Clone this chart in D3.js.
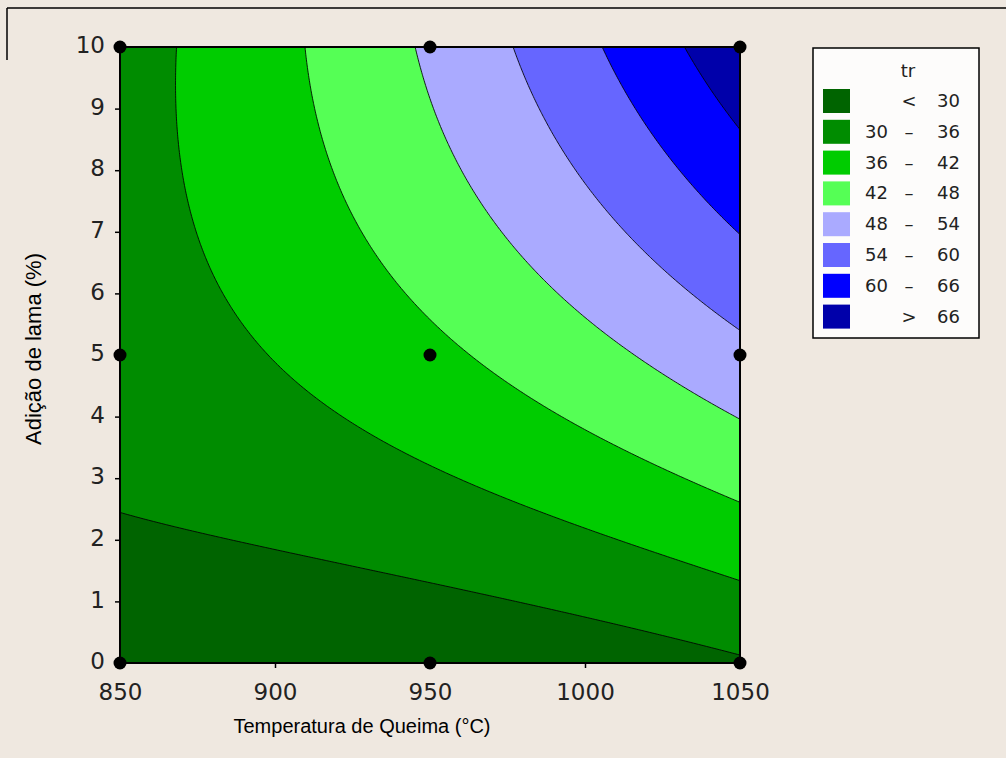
<!DOCTYPE html>
<html>
<head>
<meta charset="utf-8">
<script src="https://cdn.jsdelivr.net/npm/d3@7"></script>
<style>
  html, body { margin: 0; padding: 0; background: #efe8e0; }
  svg { display: block; }
</style>
</head>
<body>
<svg id="chart" width="1006" height="758"></svg>
<script>
// Fitted response surface for tr, in coded units
// x = (T - 950) / 100, y = (L - 5) / 5
const termPowX = [0, 1, 0, 2, 0, 1, 2, 2];
const termPowY = [0, 0, 1, 0, 2, 1, 1, 2];
const termCoef = [40.69, 9.91, 11.79, 1.78, -3.61, 8.39, 0.30, 1.05];

// Contour levels and legend
const levels = [30, 36, 42, 48, 54, 60, 66];
const bandColors = ["#006400", "#008c00", "#00cc00", "#55ff55", "#aaaaff", "#6666ff", "#0000ff", "#0000aa"];
const legendLow = ["", "30", "36", "42", "48", "54", "60", ""];
const legendMid = ["<", "\u2013", "\u2013", "\u2013", "\u2013", "\u2013", "\u2013", ">"];
const legendHigh = ["30", "36", "42", "48", "54", "60", "66", "66"];

// Design points of the experiment
const designT = [850, 850, 850, 950, 950, 950, 1050, 1050, 1050];
const designL = [0, 5, 10, 0, 5, 10, 0, 5, 10];

// Axis ticks
const xTicks = [850, 900, 950, 1000, 1050];
const yTicks = [0, 1, 2, 3, 4, 5, 6, 7, 8, 9, 10];

const svg = d3.select("#chart");
const plot = { left: 120, right: 740, top: 47, bottom: 663 };

const xScale = d3.scaleLinear().domain([850, 1050]).range([plot.left, plot.right]);
const yScale = d3.scaleLinear().domain([0, 10]).range([plot.bottom, plot.top]);

function response(T, L) {
  const x = (T - 950) / 100, y = (L - 5) / 5;
  let v = 0;
  for (let k = 0; k < termCoef.length; k++) {
    v += termCoef[k] * Math.pow(x, termPowX[k]) * Math.pow(y, termPowY[k]);
  }
  return v;
}

// Outer frame
svg.append("line").attr("x1", 7).attr("x2", 1006).attr("y1", 8).attr("y2", 8)
  .attr("stroke", "#000").attr("stroke-width", 1.5);
svg.append("line").attr("x1", 7).attr("x2", 7).attr("y1", 8).attr("y2", 60)
  .attr("stroke", "#000").attr("stroke-width", 1.5);

// Sample the surface on a fine grid
const nx = 241, ny = 241;
const dT = 200 / (nx - 1), dL = 10 / (ny - 1);
const values = new Float64Array(nx * ny);
for (let j = 0; j < ny; j++) {
  for (let i = 0; i < nx; i++) {
    values[j * nx + i] = response(850 + i * dT, 0 + j * dL);
  }
}

const contours = d3.contours().size([nx, ny]).thresholds(levels)(values);

const gridToPixel = d3.geoTransform({
  point: function (gx, gy) {
    this.stream.point(xScale(850 + (gx - 0.5) * dT), yScale((gy - 0.5) * dL));
  }
});
const path = d3.geoPath(gridToPixel);

svg.append("clipPath").attr("id", "plotClip")
  .append("rect")
  .attr("x", plot.left).attr("y", plot.top)
  .attr("width", plot.right - plot.left).attr("height", plot.bottom - plot.top);

const g = svg.append("g").attr("clip-path", "url(#plotClip)");

g.append("rect")
  .attr("x", plot.left).attr("y", plot.top)
  .attr("width", plot.right - plot.left).attr("height", plot.bottom - plot.top)
  .attr("fill", bandColors[0]);

g.selectAll("path.band")
  .data(contours)
  .join("path")
  .attr("class", "band")
  .attr("d", path)
  .attr("fill", (d, i) => bandColors[i + 1])
  .attr("stroke", "#000")
  .attr("stroke-width", 1)
  .attr("stroke-opacity", 0.85);

// Plot frame
svg.append("rect")
  .attr("x", plot.left).attr("y", plot.top)
  .attr("width", plot.right - plot.left).attr("height", plot.bottom - plot.top)
  .attr("fill", "none").attr("stroke", "#000").attr("stroke-width", 2);

// Axes
const tickFont = "'DejaVu Sans', Verdana, sans-serif";
const xAxis = svg.append("g")
  .attr("transform", `translate(0,${plot.bottom})`)
  .call(d3.axisBottom(xScale).tickValues(xTicks).tickFormat(d3.format("d")).tickSize(5).tickPadding(16));
const yAxis = svg.append("g")
  .attr("transform", `translate(${plot.left},0)`)
  .call(d3.axisLeft(yScale).tickValues(yTicks).tickFormat(d3.format("d")).tickSize(5).tickPadding(10));
[xAxis, yAxis].forEach(a => {
  a.select(".domain").remove();
  a.selectAll("line").attr("stroke", "#000").attr("stroke-width", 1.5);
  a.selectAll("text").attr("font-family", tickFont).attr("font-size", 23).attr("fill", "#222");
});
yAxis.selectAll("text").attr("dy", "0.25em");

// Axis titles
svg.append("text")
  .attr("x", 362).attr("y", 733)
  .attr("text-anchor", "middle")
  .attr("font-family", "'Liberation Sans', Arial, sans-serif")
  .attr("font-size", 20)
  .attr("fill", "#000")
  .text("Temperatura de Queima (°C)");
svg.append("text")
  .attr("transform", "translate(41,349) rotate(-90)")
  .attr("text-anchor", "middle")
  .attr("font-family", "'Liberation Sans', Arial, sans-serif")
  .attr("font-size", 22)
  .attr("fill", "#000")
  .text("Adição de lama (%)");

// Design points
svg.selectAll("circle.design")
  .data(designT.map((t, i) => [t, designL[i]]))
  .join("circle")
  .attr("class", "design")
  .attr("cx", d => xScale(d[0]))
  .attr("cy", d => yScale(d[1]))
  .attr("r", 6.5)
  .attr("fill", "#000");

// Legend
const lg = svg.append("g");
lg.append("rect")
  .attr("x", 813).attr("y", 48).attr("width", 166).attr("height", 290)
  .attr("fill", "#fdfcfb").attr("stroke", "#000").attr("stroke-width", 1.5);
const legFont = "'DejaVu Sans', Verdana, sans-serif";
lg.append("text").attr("x", 908).attr("y", 77).attr("text-anchor", "middle")
  .attr("font-family", legFont).attr("font-size", 18).attr("fill", "#222").text("tr");
const rowY = i => 101 + i * 30.8;
bandColors.forEach((c, i) => {
  lg.append("rect").attr("x", 823).attr("y", rowY(i) - 12).attr("width", 27).attr("height", 24).attr("fill", c);
  lg.append("text").attr("x", 888).attr("y", rowY(i) + 6).attr("text-anchor", "end")
    .attr("font-family", legFont).attr("font-size", 18).attr("fill", "#222").text(legendLow[i]);
  lg.append("text").attr("x", 909).attr("y", rowY(i) + 6).attr("text-anchor", "middle")
    .attr("font-family", legFont).attr("font-size", 18).attr("fill", "#222").text(legendMid[i]);
  lg.append("text").attr("x", 937).attr("y", rowY(i) + 6).attr("text-anchor", "start")
    .attr("font-family", legFont).attr("font-size", 18).attr("fill", "#222").text(legendHigh[i]);
});
</script>
</body>
</html>
